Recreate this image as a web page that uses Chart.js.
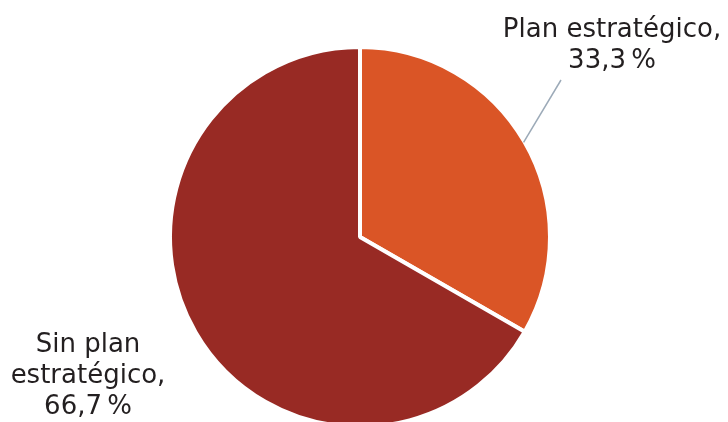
<!DOCTYPE html>
<html>
<head>
<meta charset="utf-8">
<script src="https://cdn.jsdelivr.net/npm/chart.js@4/dist/chart.umd.min.js"></script>
<style>
  html, body { margin: 0; padding: 0; background: #fff; overflow: hidden; }
  #wrap { width: 728px; height: 422px; overflow: hidden; position: relative; }
  canvas { display: block; }
</style>
</head>
<body>
<div id="wrap"><canvas id="c" width="728" height="440"></canvas></div>
<script>
// Strategic-plan share
const categories = ['Plan estratégico', 'Sin plan estratégico'];
const labelLines = [['Plan estratégico,'], ['Sin plan', 'estratégico,']];
const shares = [33.3, 66.7];
const sliceColors = ['#DA5526', '#982A24'];

function fmtPct(v) {
  return v.toFixed(1).replace('.', ',') + '\u2009%';
}

// Draws the outside labels and the leader line of the small slice
const sliceLabels = {
  id: 'sliceLabels',
  afterDatasetsDraw(chart) {
    const ctx = chart.ctx;
    const arcs = chart.getDatasetMeta(0).data;
    ctx.save();
    ctx.font = '26px "DejaVu Sans", Verdana, sans-serif';
    ctx.fillStyle = '#231F20';
    ctx.textAlign = 'center';
    ctx.textBaseline = 'alphabetic';

    // leader line from the middle of the first slice's rim
    const a0 = arcs[0];
    const mid = (a0.startAngle + a0.endAngle) / 2;
    const r = a0.outerRadius - 1;
    const sx = a0.x + Math.cos(mid) * r;
    const sy = a0.y + Math.sin(mid) * r;
    ctx.strokeStyle = '#9CAAB8';
    ctx.lineWidth = 1.5;
    ctx.beginPath();
    ctx.moveTo(sx, sy);
    ctx.lineTo(561, 80);
    ctx.stroke();

    const lineH = 31;
    // first slice label
    const t0 = labelLines[0].concat([fmtPct(shares[0])]);
    t0.forEach((s, i) => ctx.fillText(s, 612, 37 + i * lineH));
    // second slice label
    const t1 = labelLines[1].concat([fmtPct(shares[1])]);
    t1.forEach((s, i) => ctx.fillText(s, 88, 352 + i * lineH));
    ctx.restore();
  }
};

new Chart(document.getElementById('c'), {
  type: 'pie',
  data: {
    labels: categories,
    datasets: [{
      data: shares,
      backgroundColor: sliceColors,
      borderColor: '#FFFFFF',
      borderWidth: 4,
      hoverOffset: 0
    }]
  },
  options: {
    responsive: false,
    animation: false,
    radius: 190,
    layout: { padding: { left: 160, right: 168, top: 37, bottom: 3 } },
    plugins: {
      legend: { display: false },
      tooltip: { enabled: false }
    }
  },
  plugins: [sliceLabels]
});
</script>
</body>
</html>
